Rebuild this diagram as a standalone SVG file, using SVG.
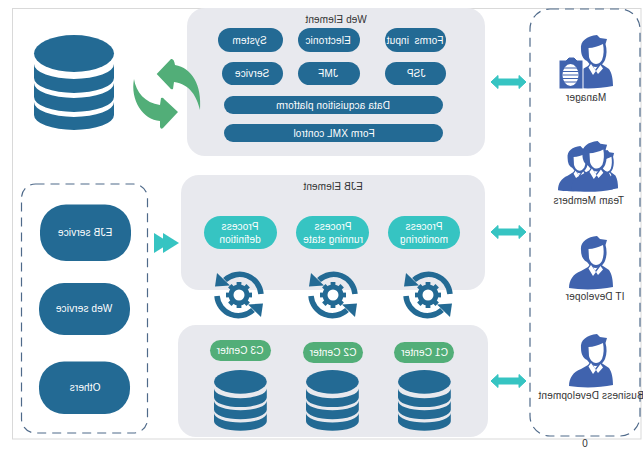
<svg xmlns="http://www.w3.org/2000/svg" xmlns:xlink="http://www.w3.org/1999/xlink" width="643" height="452" viewBox="0 0 643 452">
<style>
text{font-family:"Liberation Sans",Arial,sans-serif;font-size:10px;text-anchor:middle;fill:#333;letter-spacing:.15px}
.w text{fill:#fff}
.panel{fill:#e8e9ee}
.dark{fill:#236a94}
.teal{fill:#36c4c2}
.green{fill:#52ae78}
.dash{fill:none;stroke:#4f6a8a;stroke-width:1.2;stroke-dasharray:9 6}
.sync{fill:none;stroke:#236a94;stroke-width:5.500}
</style>
<defs>
<g id="db" class="dark">
<ellipse cx="40" cy="18.5" rx="40" ry="18.5"/>
<path d="M0 29A40 15 0 0 0 80 29V43A40 15 0 0 1 0 43Z"/>
<path d="M0 48A40 15 0 0 0 80 48V62A40 15 0 0 1 0 62Z"/>
<path d="M0 67A40 15 0 0 0 80 67V80A40 15 0 0 1 0 80Z"/>
</g>
<g id="sync">
<path class="sync" d="M-14-15A21.5 21.5 0 0 1 22-1"/>
<path class="sync" d="M-22 1A21.5 21.5 0 0 0 14 15"/>
<path class="dark" d="M-22-22L-24-8.500L-9-9.500Z"/>
<path class="dark" d="M22 22L24 8.500L9 9.500Z"/>
<circle r="8" fill="none" stroke="#236a94" stroke-width="5"/>
<g class="dark">
<rect x="-2.400" y="-13" width="4.800" height="26"/>
<rect x="-2.400" y="-13" width="4.800" height="26" transform="rotate(45)"/>
<rect x="-2.400" y="-13" width="4.800" height="26" transform="rotate(90)"/>
<rect x="-2.400" y="-13" width="4.800" height="26" transform="rotate(135)"/>
</g>
<circle r="5.500" fill="#fff"/>
</g>
<polygon id="dbl" class="teal" stroke="#36c4c2" stroke-linejoin="round" points="0,0 7,-6.500 7,-3 28,-3 28,-6.500 35,0 28,6.500 28,3 7,3 7,6.500"/>
<g id="person" fill="#4063ae">
<path d="M12 14C11 6 18 1 28 0L31 3L38 4L36.500 9C38 14 38 20 36 25C34 29 31 32 27 32C24 32 21 30 18 26C14 24 12 20 12 14Z"/>
<path fill="#fff" d="M19.500 13C24 13 30 11 34 9C35 14 35 20 33 25C31 28 29 29 27 29C24 29 21 26 20 22Z"/>
<path d="M0 52C0 44 4 38 12 35L19 31L22 27L26 35L31 28L34 30L40 34C43 38 44 45 44 51C30 54 12 54 0 52Z"/>
<path fill="#fff" d="M19.500 32.500L22 29L27 36L24 40ZM27 36L31.500 30L34 33.500L29 39Z"/>
</g>
</defs>

<rect x="12.500" y="8.500" width="628.500" height="430.500" fill="#fff" stroke="#d9d9d9"/>

<g id="database"><use xlink:href="#db" href="#db" transform="translate(34,35)"/></g>

<g id="web-element">
<rect class="panel" x="187" y="8" width="298" height="148" rx="18"/>
<text transform="translate(336,22.500) scale(-1,1)">Web Element</text>
<g class="w">
<rect class="dark" x="218" y="28" width="65" height="24" rx="12"/><text transform="translate(249.500,43.500) scale(-1,1)">System</text>
<rect class="dark" x="298" y="28" width="62" height="24" rx="12"/><text transform="translate(328,43.500) scale(-1,1)">Electronic</text>
<rect class="dark" x="385" y="28" width="61" height="24" rx="12"/><text transform="translate(415,43.500) scale(-1,1)" style="word-spacing:2.500px">Forms input</text>
<rect class="dark" x="222" y="62" width="61" height="23" rx="11.500"/><text transform="translate(252,77) scale(-1,1)">Service</text>
<rect class="dark" x="298" y="62" width="62" height="23" rx="11.500"/><text transform="translate(328,77) scale(-1,1)">JMF</text>
<rect class="dark" x="385" y="62" width="61" height="23" rx="11.500"/><text transform="translate(416,77) scale(-1,1)">JSP</text>
<rect class="dark" x="224" y="96" width="219" height="18" rx="9"/><text transform="translate(333,108.500) scale(-1,1)">Data acquisition platform</text>
<rect class="dark" x="224" y="124" width="219" height="18" rx="9"/><text transform="translate(334,136.500) scale(-1,1)">Form XML control</text>
</g>
</g>

<g id="ejb-element">
<rect class="panel" x="181" y="175" width="304" height="115" rx="18"/>
<text transform="translate(333,190) scale(-1,1)">EJB Element</text>
<g class="w">
<rect class="teal" x="204" y="216" width="73" height="33" rx="16.500"/>
<text transform="translate(240,230) scale(-1,1)">Process</text><text transform="translate(240,243) scale(-1,1)">definition</text>
<rect class="teal" x="296" y="216" width="73" height="33" rx="16.500"/>
<text transform="translate(333,230) scale(-1,1)">Process</text><text transform="translate(333,243) scale(-1,1)">running state</text>
<rect class="teal" x="388" y="216" width="72" height="33" rx="16.500"/>
<text transform="translate(424,230) scale(-1,1)">Process</text><text transform="translate(424,243) scale(-1,1)">monitoring</text>
</g>
</g>

<g id="centers">
<rect class="panel" x="178" y="325" width="310" height="112" rx="18"/>
<g class="w">
<rect class="green" x="210" y="340" width="61" height="21" rx="10.500"/><text transform="translate(240,354) scale(-1,1)">C3 Center</text>
<rect class="green" x="303" y="342" width="60" height="21" rx="10.500"/><text transform="translate(333,356) scale(-1,1)">C2 Center</text>
<rect class="green" x="394" y="342" width="60" height="21" rx="10.500"/><text transform="translate(424.500,356) scale(-1,1)">C1 Center</text>
</g>
<use xlink:href="#db" href="#db" transform="translate(214,370) scale(.66,.64)"/>
<use xlink:href="#db" href="#db" transform="translate(306,370) scale(.66,.64)"/>
<use xlink:href="#db" href="#db" transform="translate(398,370) scale(.66,.64)"/>
</g>

<g id="sync-icons">
<use xlink:href="#sync" href="#sync" x="239" y="295"/>
<use xlink:href="#sync" href="#sync" x="333" y="295"/>
<use xlink:href="#sync" href="#sync" x="428" y="295"/>
</g>

<g id="services">
<rect class="dash" x="21.500" y="184" width="126" height="249" rx="14"/>
<g class="w">
<rect class="dark" x="40" y="204.500" width="91" height="56.500" rx="26"/><text transform="translate(85,236) scale(-1,1)">EJB service</text>
<rect class="dark" x="39" y="283" width="91" height="52" rx="25"/><text transform="translate(84,311.500) scale(-1,1)">Web service</text>
<rect class="dark" x="39" y="361.500" width="91" height="52.500" rx="25"/><text transform="translate(85,391) scale(-1,1)">Others</text>
</g>
</g>

<g id="roles">
<rect class="dash" x="530" y="9" width="110" height="427" rx="20"/>
<g id="manager">
<use xlink:href="#person" href="#person" x="569" y="35"/>
<path fill="#4063ae" stroke="#fff" stroke-linejoin="round" d="M559 60H566L569 57H574L577 60H583V89H559Z"/>
<ellipse cx="570.500" cy="75" rx="8" ry="11" fill="#fff"/>
<path stroke="#4063ae" stroke-width="1.200" d="M563 68H578M562.500 71.500H578.500M562.500 75H578.500M562.500 78.500H578.500M563 82H578"/>
<text transform="translate(586,100.500) scale(-1,1)">Manager</text>
</g>
<g id="team-members">
<use xlink:href="#person" href="#person" transform="translate(558,146) scale(.8,.85)"/>
<use xlink:href="#person" href="#person" transform="translate(589,150) scale(.66,.75)"/>
<use xlink:href="#person" href="#person" transform="translate(571,141) scale(.95)"/>
<text transform="translate(588.700,204) scale(-1,1)">Team Members</text>
</g>
<g id="it-developer">
<use xlink:href="#person" href="#person" x="569" y="236"/>
<text transform="translate(595,300) scale(-1,1)">IT Developer</text>
</g>
<g id="business-development">
<use xlink:href="#person" href="#person" x="569" y="334"/>
<text transform="translate(591,398.500) scale(-1,1)">Business Development</text>
</g>
</g>

<g id="connectors">
<path class="green" d="M156.700 74L171 59Q174 58 175 65C192 68 202 85 200 110C197 97 190 84 174 82L173 89Q171 90 170 88Z"/>
<path class="green" d="M134 79C136 92 145 103 160 105L161 98Q163 97 164 99L178 112L163 128Q161 130 160 127L160 121C143 120 130 100 134 79Z"/>
<use xlink:href="#dbl" href="#dbl" x="491" y="82"/>
<use xlink:href="#dbl" href="#dbl" x="491" y="232"/>
<use xlink:href="#dbl" href="#dbl" x="491" y="381"/>
<polygon class="teal" points="154,233 170,243 154,253"/>
<polygon class="teal" points="163,233 179,243 163,253"/>
</g>

<text transform="translate(585,447) scale(-1,1)">0</text>
</svg>
